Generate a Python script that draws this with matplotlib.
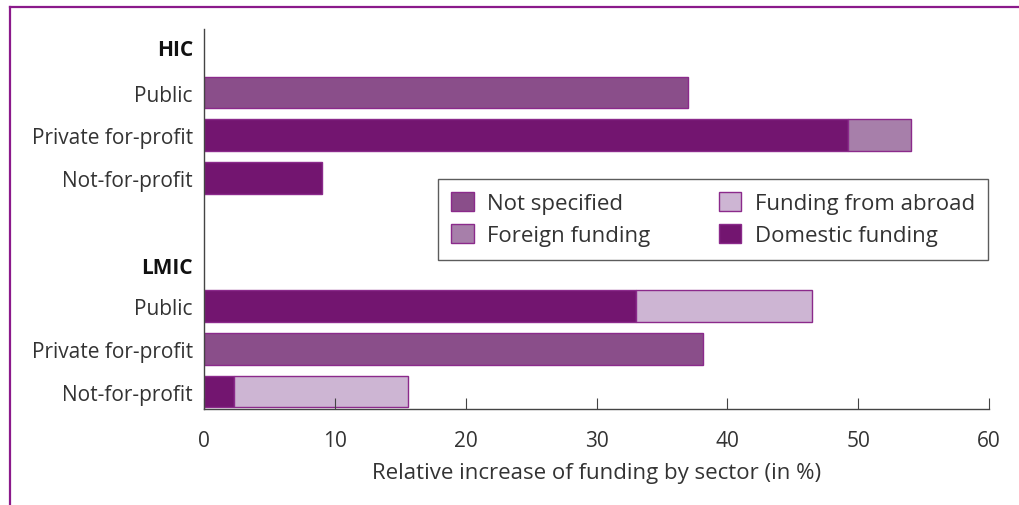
import matplotlib.pyplot as plt
from matplotlib.lines import Line2D
from matplotlib.patches import Patch

plt.rcParams['font.family'] = ['Open Sans', 'DejaVu Sans']

sectors = ['Public', 'Private for-profit', 'Not-for-profit']
groups = ['HIC', 'LMIC']

# values in % (stacked left to right)
hic_domestic = [0, 49.2, 9.0]
hic_foreign = [0, 4.85, 0]
hic_not_specified = [37.0, 0, 0]

lmic_domestic = [33.0, 0, 2.3]
lmic_abroad = [13.5, 0, 13.3]
lmic_not_specified = [0, 38.15, 0]

c_not_spec = '#8a4e8a'
c_foreign = '#a77faa'
c_abroad = '#cdb5d3'
c_domestic = '#731570'
c_edge = '#8b2a8b'
txt = '#333333'

fig = plt.figure(figsize=(10.19, 5.06), dpi=100)
ax = fig.add_axes([0.2002, 0.1897, 0.7704, 0.751])

# row positions: header, 3 sectors, gap, header, 3 sectors
hic_head, lmic_head = -0.066, 5.04
hic_rows = [1, 2, 3]
lmic_rows = [6, 7, 8]


def draw(rows, segs):
    left = [0.0] * len(rows)
    for vals, col in segs:
        for i, (r, v) in enumerate(zip(rows, vals)):
            if v > 0:
                ax.barh(r, v, left=left[i], height=0.74, color=col,
                        edgecolor=c_edge, linewidth=1.0)
                left[i] += v


draw(hic_rows, [(hic_domestic, c_domestic), (hic_foreign, c_foreign),
                (hic_not_specified, c_not_spec)])
draw(lmic_rows, [(lmic_domestic, c_domestic), (lmic_abroad, c_abroad),
                 (lmic_not_specified, c_not_spec)])

ax.set_xlim(0, 60)
ax.set_ylim(8.41, -0.487)
ax.set_xticks(range(0, 61, 10))
ax.tick_params(axis='x', direction='in', length=8, colors='#444444',
               labelcolor=txt, labelsize=15, pad=15)
ax.set_yticks([hic_head] + hic_rows + [lmic_head] + lmic_rows)
ax.set_yticklabels(['HIC'] + sectors + ['LMIC'] + sectors, fontsize=15, color=txt)
for lab in ax.get_yticklabels():
    if lab.get_text() in groups:
        lab.set_fontweight('bold')
        lab.set_color('#111111')
ax.tick_params(axis='y', length=0, pad=8)

for s in ['top', 'right']:
    ax.spines[s].set_visible(False)
for s in ['left', 'bottom']:
    ax.spines[s].set_color('#444444')
    ax.spines[s].set_linewidth(1.0)

ax.set_xlabel('Relative increase of funding by sector (in %)', fontsize=16,
              color=txt, labelpad=8)

handles = [Patch(facecolor=c_not_spec, edgecolor=c_edge, label='Not specified'),
           Patch(facecolor=c_foreign, edgecolor=c_edge, label='Foreign funding'),
           Patch(facecolor=c_abroad, edgecolor=c_edge, label='Funding from abroad'),
           Patch(facecolor=c_domestic, edgecolor=c_edge, label='Domestic funding')]
leg = ax.legend(handles=handles, ncol=2, loc='upper right',
                bbox_to_anchor=(0.9987, 0.605), borderaxespad=0, fontsize=16,
                frameon=True, fancybox=False, edgecolor='#333333',
                handlelength=1.0, handleheight=0.9, columnspacing=3.1,
                labelspacing=0.45, borderpad=0.6, handletextpad=0.6)
leg.get_frame().set_linewidth(1.0)
for t in leg.get_texts():
    t.set_color(txt)

# purple frame (top and left)
fig.add_artist(Line2D([0.0098, 1.0], [0.984, 0.984], transform=fig.transFigure,
                      color='#8b1a8b', linewidth=1.6))
fig.add_artist(Line2D([0.0098, 0.0098], [0.0, 0.984], transform=fig.transFigure,
                      color='#8b1a8b', linewidth=1.6))

fig.savefig('out.png', dpi=100)
